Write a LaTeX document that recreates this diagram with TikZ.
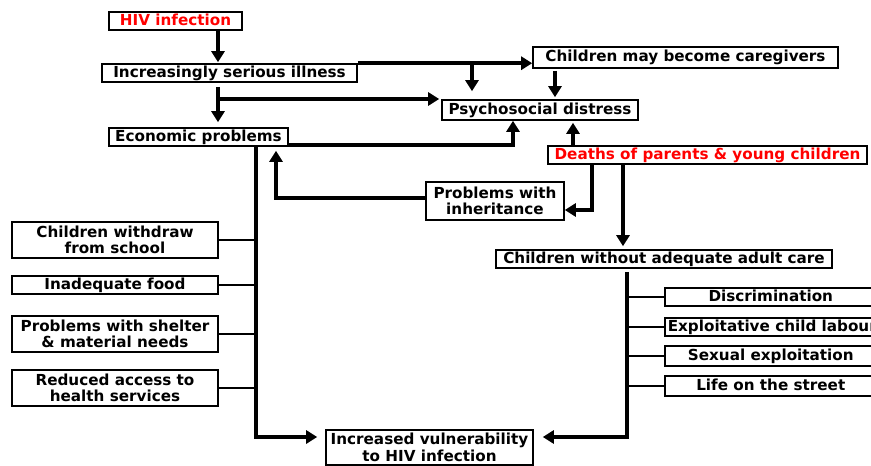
\documentclass[tikz,border=0pt]{standalone}
\usepackage{fontspec}
\setmainfont{DejaVu Sans}
\usetikzlibrary{arrows.meta}

\begin{document}
\begin{tikzpicture}[x=1pt, y=-1pt,
    box/.style={draw, line width=1.6pt, fill=white, inner xsep=3pt, inner ysep=0pt, align=center,
      font=\fontsize{15.2}{16.5}\selectfont\bfseries},
    onebox/.style={box, text height=11pt, text depth=3pt},
    arr/.style={line width=3.5pt, -{Triangle[length=11pt,width=13pt]}},
    link/.style={line width=2pt}]
            \useasboundingbox (0,0) rectangle (871,466);
            \clip (0,0) rectangle (871,466);

            % Draw the main chain
            \node[onebox, text=red, minimum width=133, minimum height=18] (hiv) at (175.5,21) {HIV infection};
            \node[onebox, minimum width=255, minimum height=18] (illness) at (229.5,73) {Increasingly serious illness};
            \node[onebox, minimum width=179, minimum height=18] (econ) at (198.5,137) {Economic problems};
            \node[onebox, minimum width=305, minimum height=21] (care) at (685.5,57.5) {Children may become caregivers};
            \node[onebox, minimum width=196, minimum height=20] (psych) at (540,110) {Psychosocial distress};
            \node[onebox, text=red, minimum width=319, minimum height=18] (deaths) at (707.5,155) {Deaths of parents \& young children};
            \node[box, minimum width=138, minimum height=38] (inherit) at (495,201) {Problems with\\inheritance};
            \node[onebox, minimum width=336, minimum height=18] (adult) at (664,259) {Children without adequate adult care};
            \node[box, minimum width=207, minimum height=35] (vuln) at (429.5,447.5) {Increased vulnerability\\to HIV infection};

            % Draw the economic effects
            \node[box, minimum width=206, minimum height=36] (withdraw) at (115,240) {Children withdraw\\from school};
            \node[onebox, minimum width=206, minimum height=18] (food) at (115,285) {Inadequate food};
            \node[box, minimum width=206, minimum height=36] (shelter) at (115,334) {Problems with shelter\\\& material needs};
            \node[box, minimum width=206, minimum height=36] (access) at (115,388) {Reduced access to\\health services};

            % Draw the effects of missing adult care
            \node[onebox, anchor=west, minimum width=212, minimum height=18] (discr) at (664,297) {Discrimination};
            \node[onebox, anchor=west, minimum width=212, minimum height=18] (exploit) at (664,327) {Exploitative child labour};
            \node[onebox, anchor=west, minimum width=212, minimum height=20] (sexual) at (664,356) {Sexual exploitation};
            \node[onebox, anchor=west, minimum width=212, minimum height=20] (street) at (664,386) {Life on the street};

            % Junctions of the connectors
            \coordinate (jA) at (218,99);
            \coordinate (jB) at (472,64);
            \coordinate (jC) at (555,0);
            \coordinate (jD) at (513,145);
            \coordinate (jE) at (573,0);
            \coordinate (jF) at (592,210);
            \coordinate (jG) at (276,198);
            \coordinate (jH) at (623,0);
            \coordinate (jI) at (256,437);
            \coordinate (jJ) at (627,437);

            % Draw arrows from illness
            \draw[arr, shorten >=1pt] (hiv.south -| jA) -- (illness.north -| jA);
            \draw[arr, shorten <=4pt, shorten >=5pt] (illness.south -| jA) -- (econ.north -| jA);
            \draw[arr, shorten >=2pt] (jA) -- (jA -| psych.west);
            \draw[arr] (illness.north east) -- (illness.north east -| care.west);
            \draw[arr, shorten >=8pt] (jB) -- (jB |- psych.north);
            \draw[arr, shorten <=2pt, shorten >=2pt] (jC |- care.south) -- (jC |- psych.north);

            % Draw arrows into distress
            \draw[arr] (econ.east |- jD) -- (jD) -- (jD |- psych.south);
            \draw[arr, shorten >=2pt] (jE |- deaths.north) -- (jE |- psych.south);

            % Draw arrows from deaths
            \draw[arr] (jF |- deaths.south) -- (jF) -- (jF -| inherit.east);
            \draw[arr, shorten >=4pt] (jG -| inherit.west) -- (jG) -- (jG |- econ.south);
            \draw[arr, shorten >=3pt] (jH |- deaths.south) -- (jH |- adult.north);

            % Draw the two trunks to vulnerability
            \draw[arr, shorten >=8pt] (jI |- econ.south) -- (jI) -- (jI -| vuln.west);
            \draw[arr, shorten <=3pt, shorten >=9pt] (jJ |- adult.south) -- (jJ) -- (jJ -| vuln.east);

            % Link the side boxes
            \draw[link] (withdraw.east) -- (withdraw.east -| jI);
            \draw[link] (food.east) -- (food.east -| jI);
            \draw[link] (shelter.east) -- (shelter.east -| jI);
            \draw[link] (access.east) -- (access.east -| jI);
            \draw[link] (discr.west) -- (discr.west -| jJ);
            \draw[link] (exploit.west) -- (exploit.west -| jJ);
            \draw[link] (sexual.west) -- (sexual.west -| jJ);
            \draw[link] (street.west) -- (street.west -| jJ);
        \end{tikzpicture}
\end{document}
